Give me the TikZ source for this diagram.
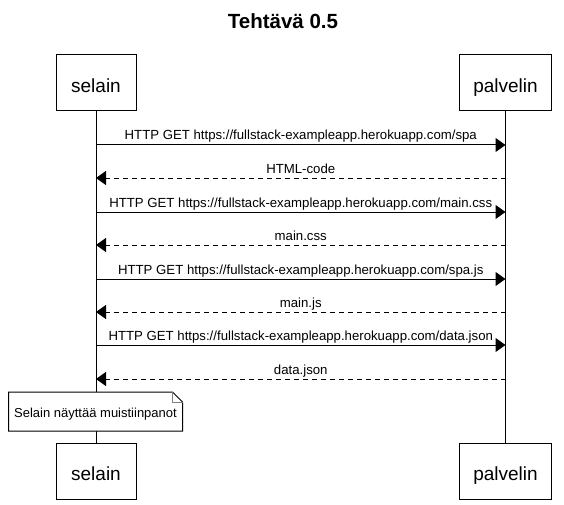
\documentclass[tikz,border=0pt]{standalone}
\usepackage{fontspec}
\setmainfont{Liberation Sans}
\usetikzlibrary{arrows.meta}
\begin{document}
\begin{tikzpicture}[x=1pt,y=-1pt,
  actor/.style={draw, line width=1pt, fill=white, minimum height=56pt, inner sep=0pt,
    font=\fontsize{19}{19}\selectfont, text height=18.6pt, text depth=0pt},
  lifeline/.style={line width=1pt},
  msg/.style={line width=1pt, -{Triangle[length=10pt,width=14pt]}},
  reply/.style={msg, dash pattern=on 5pt off 4pt},
  lbl/.style={font=\fontsize{13.2}{13.2}\selectfont, anchor=base, yshift=5pt, inner sep=0pt},
  notebox/.style={fill=white, draw, line width=1pt},
  notetext/.style={font=\fontsize{13}{13}\selectfont, anchor=base, inner sep=0pt}]
\useasboundingbox (0,0) rectangle (564,505);

\node[font=\bfseries\fontsize{20.5}{20.5}\selectfont, anchor=base, inner sep=0pt] (title) at (283,29) {Tehtävä 0.5};

\node[actor, minimum width=80pt] (st) at (96,83) {selain};
\node[actor, minimum width=92pt] (pt) at (505.5,83) {palvelin};
\node[actor, minimum width=80pt] (sb) at (96,471) {selain};
\node[actor, minimum width=92pt] (pb) at (505.5,471) {palvelin};

\draw[lifeline] (st.south) -- (sb.north);
\draw[lifeline] (pt.south) -- (pb.north);

\foreach \i/\y in {1/145,2/178,3/212,4/245,5/279,6/312,7/345,8/379}{
  \coordinate (s\i) at (96,\y);
  \coordinate (p\i) at (505.5,\y);
}

\draw[msg] (s1) -- node[lbl]{HTTP GET https://fullstack-exampleapp.herokuapp.com/spa} (p1);
\draw[reply] (p2) -- node[lbl]{HTML-code} (s2);
\draw[msg] (s3) -- node[lbl]{HTTP GET https://fullstack-exampleapp.herokuapp.com/main.css} (p3);
\draw[reply] (p4) -- node[lbl]{main.css} (s4);
\draw[msg] (s5) -- node[lbl]{HTTP GET https://fullstack-exampleapp.herokuapp.com/spa.js} (p5);
\draw[reply] (p6) -- node[lbl]{main.js} (s6);
\draw[msg] (s7) -- node[lbl]{HTTP GET https://fullstack-exampleapp.herokuapp.com/data.json} (p7);
\draw[reply] (p8) -- node[lbl]{data.json} (s8);

\path[notebox] (8.5,392) -- (172.5,392) -- (182.5,402) -- (182.5,431) -- (8.5,431) -- cycle;
\draw[line width=0.6pt, gray] (172.5,392) -- (172.5,402) -- (182.5,402);
\node[notetext] (note) at (95.5,417.3) {Selain näyttää muistiinpanot};
\end{tikzpicture}
\end{document}
